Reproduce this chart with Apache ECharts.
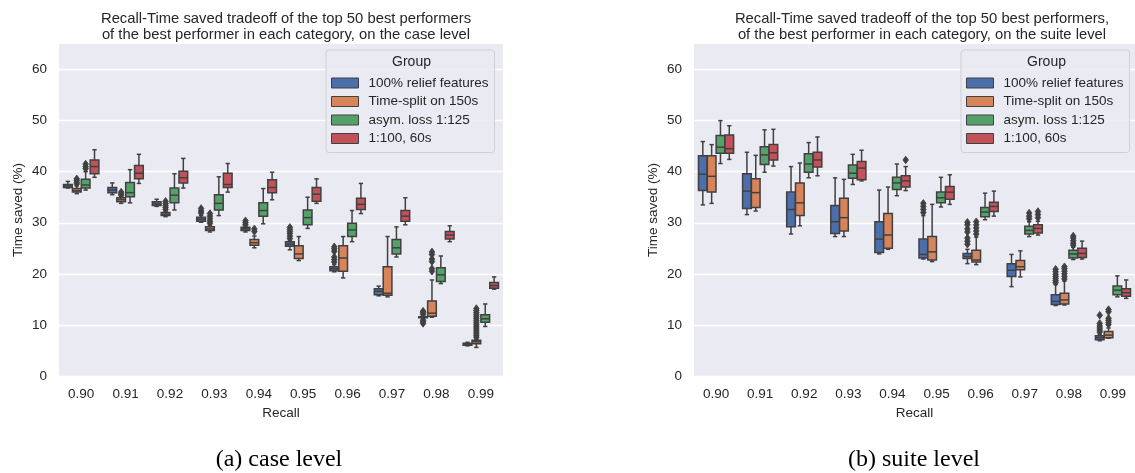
<!DOCTYPE html>
<html>
<head>
<meta charset="utf-8">
<script src="https://cdn.jsdelivr.net/npm/echarts@6/dist/echarts.min.js"></script>
<style>
html, body { margin: 0; padding: 0; background: #ffffff; }
#chart { width: 1135px; height: 473px; }
</style>
</head>
<body>
<div id="chart"></div>
<script>
// Recall levels on the x axis
const recallLevels = ['0.90', '0.91', '0.92', '0.93', '0.94', '0.95', '0.96', '0.97', '0.98', '0.99'];
const yTicks = [0, 10, 20, 30, 40, 50, 60];
const groupNames = ['100% relief features', 'Time-split on 150s', 'asym. loss 1:125', '1:100, 60s'];

// Case level: [min whisker, Q1, median, Q3, max whisker] per recall level
const caseRelief = [
  [36.8, 36.9, 37.2, 37.5, 38.1], [35.5, 35.9, 36.4, 36.9, 37.8], [33.2, 33.4, 33.7, 34.1, 34.6],
  [30.1, 30.3, 30.7, 31.1, 31.4], [28.2, 28.5, 28.8, 29.1, 29.3], [24.7, 25.4, 25.8, 26.3, 26.5],
  [20.4, 20.6, 21.0, 21.4, 21.8], [15.7, 15.9, 16.6, 17.1, 17.6], [11.2, 11.4, 11.5, 11.6, 11.8],
  [5.9, 6.0, 6.2, 6.4, 6.6]
];
const caseSplit = [
  [35.7, 36.0, 36.3, 36.7, 37.2], [33.8, 34.1, 34.5, 34.9, 35.1], [31.2, 31.4, 31.7, 32.0, 32.2],
  [28.2, 28.5, 28.8, 29.2, 29.5], [25.1, 25.6, 26.1, 26.7, 27.4], [22.6, 23.0, 23.9, 25.5, 27.3],
  [19.2, 20.5, 23.1, 25.5, 27.3], [15.5, 15.8, 16.2, 21.4, 27.3], [11.5, 11.7, 12.3, 14.7, 18.8],
  [5.6, 6.3, 6.7, 7.0, 7.2]
];
const caseAsym = [
  [36.4, 36.8, 37.4, 38.5, 40.0], [33.9, 35.1, 35.9, 37.9, 40.4], [32.5, 33.9, 35.4, 36.8, 39.6],
  [31.4, 32.5, 33.8, 35.5, 39.0], [29.8, 31.3, 32.4, 33.9, 36.7], [28.9, 29.6, 31.0, 32.5, 35.0],
  [26.3, 27.3, 28.6, 29.9, 32.4], [23.3, 23.9, 25.1, 26.7, 29.2], [18.1, 18.5, 19.8, 21.2, 23.5],
  [9.7, 10.5, 11.2, 12.0, 14.1]
];
const caseMixed = [
  [38.9, 39.6, 41.0, 42.3, 44.3], [37.7, 38.6, 39.7, 41.2, 43.4], [36.8, 37.8, 38.8, 40.1, 42.6],
  [36.0, 36.9, 37.5, 39.7, 41.6], [34.5, 35.9, 36.9, 38.4, 39.9], [33.8, 34.2, 35.6, 36.9, 38.6],
  [31.8, 32.6, 33.6, 34.8, 37.7], [29.6, 30.3, 31.3, 32.4, 34.9], [26.3, 26.8, 27.6, 28.3, 29.4],
  [17.0, 17.2, 17.7, 18.3, 19.4]
];
// Case level outliers per recall level
const caseReliefOut = [[], [], [], [31.9, 32.3, 32.8], [29.6, 30.0, 30.4], [26.9, 27.4, 27.9, 28.3, 28.7, 29.1],
  [22.3, 22.8, 23.3, 24.4, 24.9, 25.3], [], [10.3, 10.6, 10.9, 12.1, 12.4, 12.7], []];
const caseSplitOut = [[37.6, 37.9, 38.3, 38.6], [35.4, 35.7, 36.0], [32.6, 33.0, 33.4, 33.8, 34.2],
  [29.9, 30.3, 30.8, 31.3, 31.8], [28.3, 28.8], [], [], [], [20.5, 21.0, 22.4, 22.9, 23.8, 24.3],
  [7.6, 8.0, 8.4, 8.8, 9.2, 9.6, 10.0, 10.4, 10.8, 11.2, 11.6, 12.0, 12.4, 12.8, 13.2]];
const caseAsymOut = [[40.6, 41.0, 41.5], [], [], [], [], [], [], [], [], []];
const caseMixedOut = [[], [], [], [], [], [], [], [], [], []];

// Suite level: [min whisker, Q1, median, Q3, max whisker] per recall level
const suiteRelief = [
  [33.5, 36.3, 39.5, 43.1, 45.9], [31.6, 32.8, 36.2, 39.6, 43.8], [27.8, 29.2, 32.6, 36.0, 41.0],
  [27.3, 27.9, 30.2, 33.4, 38.8], [23.9, 24.2, 26.8, 30.2, 36.4], [22.9, 23.1, 23.8, 26.8, 31.4],
  [22.0, 23.0, 23.4, 24.0, 24.8], [17.5, 19.5, 20.7, 22.0, 23.8], [13.8, 14.0, 14.6, 15.9, 17.9],
  [6.9, 7.1, 7.5, 7.9, 8.2]
];
const suiteSplit = [
  [33.8, 36.0, 39.1, 43.1, 45.3], [32.3, 33.0, 35.9, 38.6, 43.2], [29.4, 31.4, 33.9, 37.8, 41.7],
  [27.3, 28.4, 31.0, 34.8, 38.5], [24.8, 25.0, 27.6, 31.8, 37.0], [22.4, 22.7, 24.3, 27.3, 33.6],
  [21.8, 22.3, 22.7, 24.6, 27.2], [19.4, 20.8, 21.4, 22.6, 24.5], [13.9, 14.1, 14.9, 16.2, 18.6],
  [7.4, 7.5, 8.0, 8.7, 9.4]
];
const suiteAsym = [
  [41.6, 43.6, 44.8, 47.1, 50.0], [39.9, 41.4, 43.3, 44.9, 48.2], [38.8, 39.9, 41.5, 43.5, 45.7],
  [37.5, 38.7, 39.7, 41.3, 43.4], [35.3, 36.5, 37.8, 38.9, 41.5], [33.1, 33.9, 34.9, 36.0, 38.9],
  [30.6, 31.2, 32.1, 33.0, 35.8], [27.3, 27.8, 28.5, 29.3, 30.2], [22.8, 23.1, 23.9, 24.6, 25.2],
  [15.5, 15.9, 16.8, 17.6, 19.6]
];
const suiteMixed = [
  [42.4, 43.6, 44.5, 47.2, 49.0], [41.1, 42.3, 43.7, 45.3, 48.3], [39.2, 40.9, 42.3, 43.8, 46.8],
  [38.2, 38.4, 40.7, 42.0, 44.2], [36.3, 37.0, 38.2, 39.2, 41.0], [33.6, 34.6, 36.0, 37.1, 39.4],
  [31.3, 32.2, 33.2, 34.0, 36.2], [27.6, 28.0, 28.9, 29.6, 30.3], [22.9, 23.2, 24.0, 25.0, 26.4],
  [15.2, 15.6, 16.3, 17.1, 18.8]
];
// Suite level outliers per recall level
const suiteReliefOut = [[], [], [], [], [], [32.0, 32.6, 33.2, 33.8], [25.8, 26.4, 27.0, 28.2, 28.8, 29.6, 30.1],
  [], [18.3, 18.7, 19.1, 19.5, 19.9, 20.4, 20.9], [8.6, 9.0, 9.4, 9.8, 10.3, 11.9]];
const suiteSplitOut = [[], [], [], [], [], [], [27.8, 28.4, 29.0, 29.6, 30.2], [],
  [19.0, 19.5, 20.0, 20.5, 21.0, 21.4], [10.1, 10.5, 10.9, 11.3, 12.6, 13.0]];
const suiteAsymOut = [[], [], [], [], [], [], [], [30.8, 31.3, 31.9], [25.6, 26.0, 26.5, 27.0, 27.4], []];
const suiteMixedOut = [[], [], [], [], [42.3], [], [], [31.0, 31.6, 32.2], [], []];

const groupColors = ['#4c6fab', '#d8845a', '#55a16a', '#c2525a'];
const LINE = '#404040';
const LW = 1.5;
const TEXT = '#262626';
const BG = '#eaeaf2';

// Draws one box (whiskers, caps, box, median) in its hue slot inside the category band
function boxRenderer(slot, color) {
  return function (params, api) {
    const c = api.value(0);
    const band = api.size([1, 0])[0];
    const w = band * 0.8 / 4;
    const bw = w * 0.98;
    const x = api.coord([c, 0])[0] + (slot - 1.5) * w;
    const yAt = k => api.coord([c, api.value(k)])[1];
    const yMin = yAt(1), yQ1 = yAt(2), yMed = yAt(3), yQ3 = yAt(4), yMax = yAt(5);
    const cap = bw / 4;
    const ls = { stroke: LINE, lineWidth: LW };
    return {
      type: 'group',
      children: [
        { type: 'line', shape: { x1: x, y1: yQ3, x2: x, y2: yMax }, style: ls },
        { type: 'line', shape: { x1: x, y1: yQ1, x2: x, y2: yMin }, style: ls },
        { type: 'line', shape: { x1: x - cap, y1: yMax, x2: x + cap, y2: yMax }, style: ls },
        { type: 'line', shape: { x1: x - cap, y1: yMin, x2: x + cap, y2: yMin }, style: ls },
        { type: 'rect', shape: { x: x - bw / 2, y: yQ3, width: bw, height: yQ1 - yQ3 },
          style: { fill: color, stroke: LINE, lineWidth: LW } },
        { type: 'line', shape: { x1: x - bw / 2, y1: yMed, x2: x + bw / 2, y2: yMed }, style: ls }
      ]
    };
  };
}

// Draws an outlier diamond in its hue slot
function flierRenderer(slot) {
  return function (params, api) {
    const c = api.value(0);
    const band = api.size([1, 0])[0];
    const w = band * 0.8 / 4;
    const p = api.coord([c, api.value(1)]);
    const x = p[0] + (slot - 1.5) * w;
    const y = p[1];
    const hw = 2.8, hh = 3.8;
    return {
      type: 'polygon',
      shape: { points: [[x, y - hh], [x + hw, y], [x, y + hh], [x - hw, y]] },
      style: { fill: LINE, stroke: LINE, lineWidth: 0.8 }
    };
  };
}

function boxData(stats) {
  return stats.map((s, i) => [i].concat(s));
}
function flierData(outs) {
  const d = [];
  outs.forEach((vals, i) => vals.forEach(v => d.push([i, v])));
  return d;
}

const panels = [
  { boxes: [caseRelief, caseSplit, caseAsym, caseMixed],
    fliers: [caseReliefOut, caseSplitOut, caseAsymOut, caseMixedOut] },
  { boxes: [suiteRelief, suiteSplit, suiteAsym, suiteMixed],
    fliers: [suiteReliefOut, suiteSplitOut, suiteAsymOut, suiteMixedOut] }
];

const series = [];
panels.forEach((panel, gi) => {
  panel.boxes.forEach((stats, k) => {
    series.push({
      type: 'custom', name: groupNames[k], xAxisIndex: gi, yAxisIndex: gi,
      itemStyle: { color: groupColors[k] },
      renderItem: boxRenderer(k, groupColors[k]),
      encode: { x: 0, y: [1, 2, 3, 4, 5] },
      data: boxData(stats), silent: true
    });
  });
  panel.fliers.forEach((outs, k) => {
    series.push({
      type: 'custom', xAxisIndex: gi, yAxisIndex: gi,
      renderItem: flierRenderer(k),
      encode: { x: 0, y: 1 },
      data: flierData(outs), silent: true, z: 3
    });
  });
});

const gridTop = 44, gridHeight = 332;
const grids = [
  { left: 59, top: gridTop, width: 444, height: gridHeight },
  { left: 694, top: gridTop, width: 445, height: gridHeight }
];

function xAxisFor(gi) {
  return {
    type: 'category', gridIndex: gi, data: recallLevels,
    name: 'Recall', nameLocation: 'middle', nameGap: 30,
    nameTextStyle: { color: TEXT, fontSize: 13.5, fontFamily: 'Liberation Sans' },
    axisLine: { show: false }, axisTick: { show: false },
    axisLabel: { color: TEXT, fontSize: 13.5, fontFamily: 'Liberation Sans', margin: 11 },
    splitLine: { show: false }
  };
}
function yAxisFor(gi) {
  return {
    type: 'value', gridIndex: gi, min: 0, max: 65, interval: 10,
    name: 'Time saved (%)', nameLocation: 'middle', nameGap: 34,
    nameTextStyle: { color: TEXT, fontSize: 13.5, fontFamily: 'Liberation Sans' },
    axisLine: { show: false }, axisTick: { show: false },
    axisLabel: {
      color: TEXT, fontSize: 13.5, fontFamily: 'Liberation Sans', margin: 12,
      showMaxLabel: false,
      formatter: v => (yTicks.indexOf(v) >= 0 ? String(v) : '')
    },
    splitLine: { show: true, showMaxLine: false, lineStyle: { color: '#ffffff', width: 1.3 } }
  };
}

function legendFor(left) {
  return {
    orient: 'vertical', left: left, top: 50,
    data: groupNames.map((n, k) => ({
      name: n, icon: 'rect',
      itemStyle: { color: groupColors[k], borderColor: LINE, borderWidth: 1 }
    })),
    itemWidth: 27, itemHeight: 10, itemGap: 4.5,
    padding: [26, 6, 7, 5],
    backgroundColor: 'rgba(234,234,242,0.85)', borderColor: '#cfcfd6', borderWidth: 1, borderRadius: 3,
    textStyle: { color: TEXT, fontSize: 13.5, fontFamily: 'Liberation Sans', padding: [0, 0, 0, 5] },
    selectedMode: false
  };
}

const titleStyle = { color: TEXT, fontSize: 14.8, fontWeight: 'normal', fontFamily: 'Liberation Sans', lineHeight: 16 };
const captionStyle = { color: '#000000', fontSize: 24, fontWeight: 'normal', fontFamily: 'Liberation Serif' };

const option = {
  animation: false,
  backgroundColor: '#ffffff',
  title: [
    { text: 'Recall-Time saved tradeoff of the top 50 best performers\nof the best performer in each category, on the case level',
      left: 281, top: 6, textAlign: 'center', textStyle: titleStyle },
    { text: 'Recall-Time saved tradeoff of the top 50 best performers,\nof the best performer in each category, on the suite level',
      left: 917, top: 6, textAlign: 'center', textStyle: titleStyle },
    { text: '(a) case level', left: 274, top: 443, textAlign: 'center', textStyle: captionStyle },
    { text: '(b) suite level', left: 909, top: 443, textAlign: 'center', textStyle: captionStyle }
  ],
  grid: grids.map(g => Object.assign({ show: true, backgroundColor: BG, borderWidth: 0 }, g)),
  xAxis: [xAxisFor(0), xAxisFor(1)],
  yAxis: [yAxisFor(0), yAxisFor(1)],
  legend: [legendFor(326), legendFor(961)],
  graphic: [
    { type: 'text', x: 411.5, y: 62, z: 100,
      style: { text: 'Group', fill: TEXT, font: '14px "Liberation Sans"', align: 'center', verticalAlign: 'middle' } },
    { type: 'text', x: 1046.5, y: 62, z: 100,
      style: { text: 'Group', fill: TEXT, font: '14px "Liberation Sans"', align: 'center', verticalAlign: 'middle' } }
  ],
  series: series
};

const chart = echarts.init(document.getElementById('chart'), null, { renderer: 'canvas' });
chart.setOption(option);
</script>
</body>
</html>
